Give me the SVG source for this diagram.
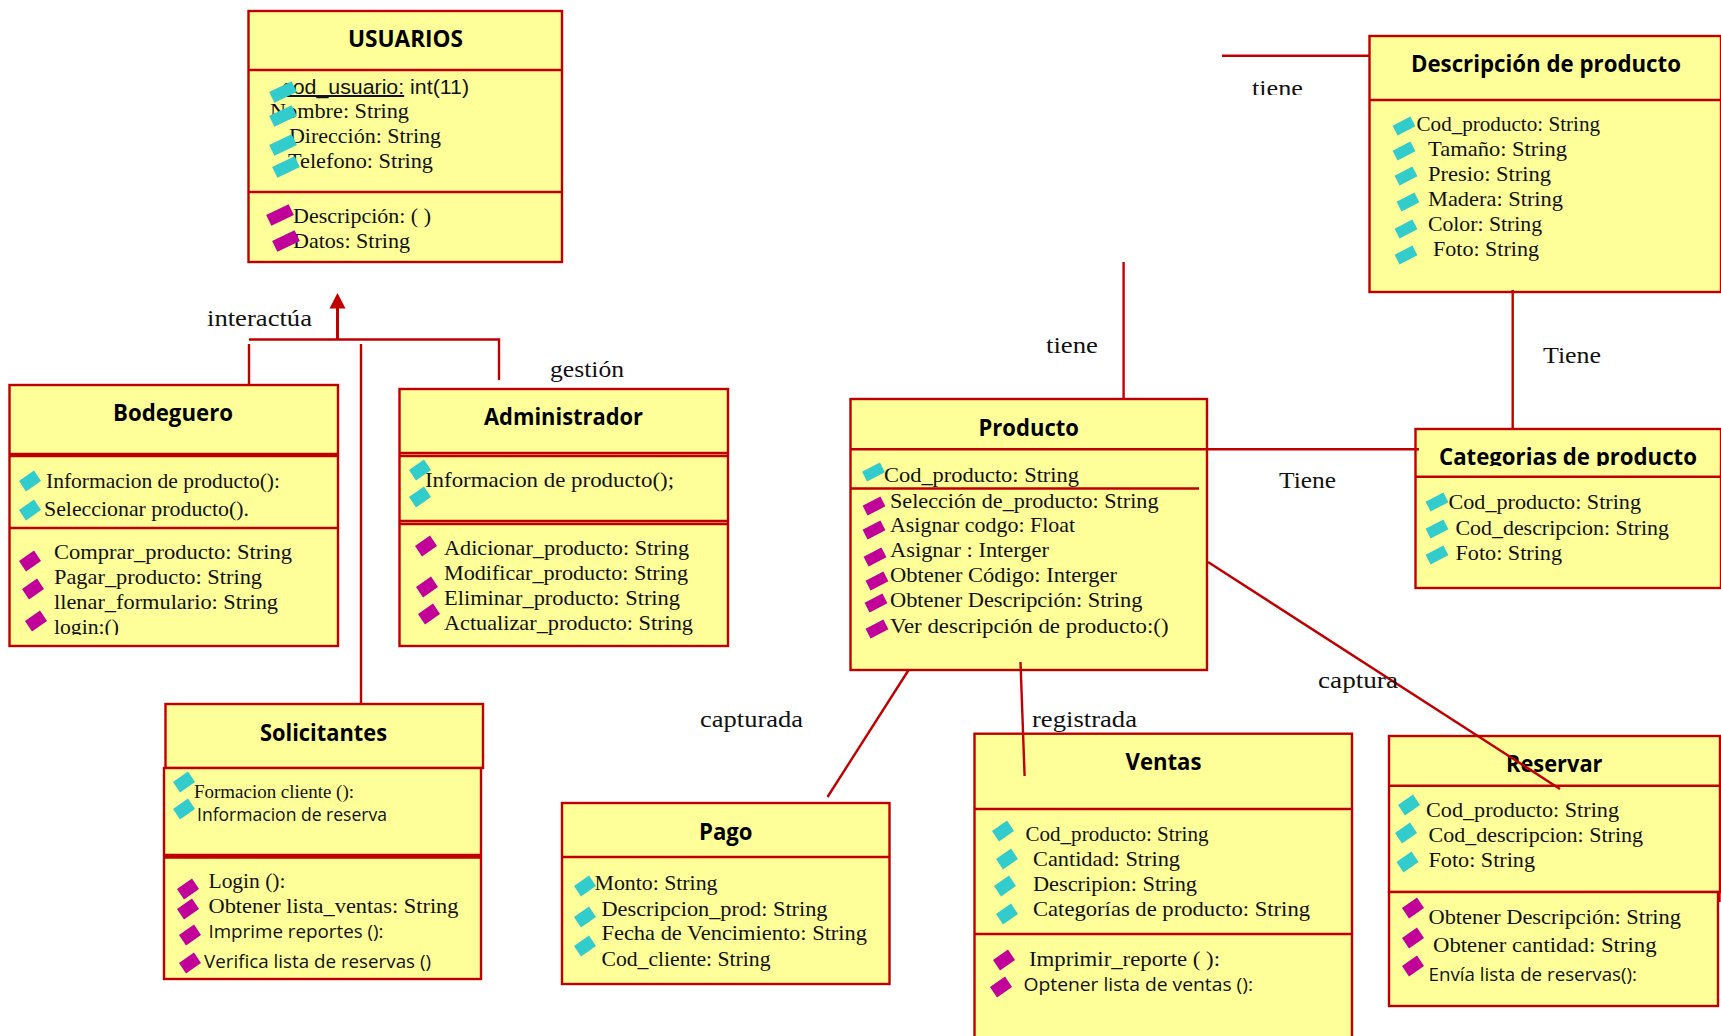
<svg xmlns="http://www.w3.org/2000/svg" width="1721" height="1036" viewBox="0 0 1721 1036">
<style>
text{fill:#111;font-family:"Liberation Serif",serif;font-size:21.5px}
.s{font-family:"Open Sans","Liberation Sans",sans-serif;font-size:18px}
.a{font-family:"Liberation Sans",sans-serif;font-size:20px}
.l{font-size:23.5px}
.h{font-family:"Open Sans","Liberation Sans",sans-serif;font-weight:700;font-size:23px;fill:#000}
.b,.d{fill:#FFFF99;stroke:#C00000;stroke-width:2.4}
.d{fill:none}
.c{stroke:#C00000;stroke-width:2.4;fill:none}
.cy{fill:#33CCCC}.mg{fill:#C00099}
</style>
<defs>
<rect id="n" x="-10" y="-5.5" width="20" height="11" transform="rotate(-27)"/>
<rect id="w" x="-12.5" y="-6" width="25" height="12" transform="rotate(-26)"/>
<polygon id="q" points="-11,0 4,-10.500 11,0 -4,10.500"/>
<clipPath id="clipTiene"><rect x="1240" y="70" width="80" height="25"/></clipPath>
<clipPath id="clipCat"><rect x="1430" y="440" width="280" height="26"/></clipPath>
<clipPath id="clipLogin"><rect x="50" y="610" width="80" height="25"/></clipPath>
</defs>

<g id="usuarios">
<rect class="b" x="248.500" y="11" width="313.500" height="251"/><path class="d" d="M248 70H562M248 192H562"/>
<text class="h" x="348" y="47" textLength="115" lengthAdjust="spacingAndGlyphs">USUARIOS</text>
<text class="a" x="282" y="94" textLength="187" lengthAdjust="spacingAndGlyphs"><tspan text-decoration="underline">cod_usuario:</tspan> int(11)</text>
<text x="270" y="118" textLength="139" lengthAdjust="spacingAndGlyphs">Nombre: String</text>
<text x="289" y="143" textLength="152" lengthAdjust="spacingAndGlyphs">Dirección: String</text>
<text x="288" y="168" textLength="145" lengthAdjust="spacingAndGlyphs">Telefono: String</text>
<text x="293" y="223" textLength="138" lengthAdjust="spacingAndGlyphs">Descripción: ( )</text>
<text x="293" y="248" textLength="117" lengthAdjust="spacingAndGlyphs">Datos: String</text>
<use href="#w" class="cy" x="283" y="92"/><use href="#w" class="cy" x="283" y="116"/><use href="#w" class="cy" x="283" y="145"/><use href="#w" class="cy" x="286" y="167"/>
<use href="#w" class="mg" x="280" y="215"/><use href="#w" class="mg" x="286" y="241"/>
</g>

<g id="bodeguero">
<rect class="b" x="9.500" y="385" width="328.500" height="261"/><path class="d" d="M9 454H338M9 456H338M9 528H338"/>
<text class="h" x="113" y="421" textLength="120" lengthAdjust="spacingAndGlyphs">Bodeguero</text>
<text x="46" y="488" textLength="234" lengthAdjust="spacingAndGlyphs">Informacion de producto():</text>
<text x="44" y="516" textLength="205" lengthAdjust="spacingAndGlyphs">Seleccionar producto().</text>
<text x="54" y="559" textLength="238" lengthAdjust="spacingAndGlyphs">Comprar_producto: String</text>
<text x="54" y="584" textLength="208" lengthAdjust="spacingAndGlyphs">Pagar_producto: String</text>
<text x="54" y="609" textLength="224" lengthAdjust="spacingAndGlyphs">llenar_formulario: String</text>
<text x="54" y="634" textLength="65" lengthAdjust="spacingAndGlyphs" clip-path="url(#clipLogin)">login:()</text>
<use href="#q" class="cy" x="30" y="481"/><use href="#q" class="cy" x="30" y="510"/>
<use href="#q" class="mg" x="30" y="561"/><use href="#q" class="mg" x="33" y="589"/><use href="#q" class="mg" x="36" y="621"/>
</g>

<g id="administrador">
<rect class="b" x="399.500" y="389" width="328.500" height="257"/><path class="d" d="M399 453H728M399 456H728M399 521H728M399 524H728"/>
<text class="h" x="484" y="425" textLength="159" lengthAdjust="spacingAndGlyphs">Administrador</text>
<text x="425" y="487" textLength="249" lengthAdjust="spacingAndGlyphs">Informacion de producto();</text>
<text x="444" y="555" textLength="245" lengthAdjust="spacingAndGlyphs">Adicionar_producto: String</text>
<text x="444" y="580" textLength="244" lengthAdjust="spacingAndGlyphs">Modificar_producto: String</text>
<text x="444" y="605" textLength="236" lengthAdjust="spacingAndGlyphs">Eliminar_producto: String</text>
<text x="444" y="630" textLength="249" lengthAdjust="spacingAndGlyphs">Actualizar_producto: String</text>
<use href="#q" class="cy" x="420" y="470"/><use href="#q" class="cy" x="420" y="497"/>
<use href="#q" class="mg" x="426" y="546"/><use href="#q" class="mg" x="427" y="587"/><use href="#q" class="mg" x="429" y="614"/>
</g>

<g id="solicitantes">
<rect class="b" x="165.500" y="704" width="317.500" height="64"/>
<rect class="b" x="164" y="768" width="317" height="211"/><path class="d" d="M164 855H481M164 857.500H481"/>
<text class="h" x="260" y="741" textLength="127" lengthAdjust="spacingAndGlyphs">Solicitantes</text>
<text x="194" y="798" style="font-size:18px" textLength="160" lengthAdjust="spacingAndGlyphs">Formacion cliente ():</text>
<text class="s" x="197" y="821" textLength="190" lengthAdjust="spacingAndGlyphs">Informacion de  reserva</text>
<text x="208.500" y="888" textLength="77" lengthAdjust="spacingAndGlyphs">Login ():</text>
<text x="208.500" y="913" textLength="250" lengthAdjust="spacingAndGlyphs">Obtener lista_ventas: String</text>
<text class="s" x="208.500" y="938" textLength="175" lengthAdjust="spacingAndGlyphs">Imprime reportes ():</text>
<text class="s" x="204" y="968" textLength="227" lengthAdjust="spacingAndGlyphs">Verifica lista de reservas ()</text>
<use href="#q" class="cy" x="184" y="782"/><use href="#q" class="cy" x="184" y="809"/>
<use href="#q" class="mg" x="188" y="889"/><use href="#q" class="mg" x="188" y="909"/><use href="#q" class="mg" x="190" y="935"/><use href="#q" class="mg" x="190" y="963"/>
</g>

<g id="pago">
<rect class="b" x="562" y="803" width="327.500" height="181"/><path class="d" d="M562 857H889.500"/>
<text class="h" x="699" y="840" textLength="53.500" lengthAdjust="spacingAndGlyphs">Pago</text>
<text x="594.500" y="890" textLength="123" lengthAdjust="spacingAndGlyphs">Monto: String</text>
<text x="601.500" y="916" textLength="226" lengthAdjust="spacingAndGlyphs">Descripcion_prod: String</text>
<text x="601.500" y="940" textLength="265.500" lengthAdjust="spacingAndGlyphs">Fecha de Vencimiento: String</text>
<text x="601.500" y="966" textLength="169" lengthAdjust="spacingAndGlyphs">Cod_cliente: String</text>
<use href="#q" class="cy" x="585" y="886"/><use href="#q" class="cy" x="585" y="917"/><use href="#q" class="cy" x="585" y="946"/>
</g>

<g id="producto">
<rect class="b" x="850.500" y="399" width="356.500" height="271"/><path class="d" d="M850 449.300H1207M850 488.500H1199"/>
<text class="h" x="978.500" y="436" textLength="100.500" lengthAdjust="spacingAndGlyphs">Producto</text>
<text x="884" y="482" textLength="195" lengthAdjust="spacingAndGlyphs">Cod_producto: String</text>
<text x="890" y="508" textLength="268.500" lengthAdjust="spacingAndGlyphs">Selección de_producto: String</text>
<text x="890" y="532" textLength="185" lengthAdjust="spacingAndGlyphs">Asignar codgo: Float</text>
<text x="890" y="557" textLength="159" lengthAdjust="spacingAndGlyphs">Asignar : Interger</text>
<text x="890" y="582" textLength="227" lengthAdjust="spacingAndGlyphs">Obtener Código: Interger</text>
<text x="890" y="607" textLength="252.500" lengthAdjust="spacingAndGlyphs">Obtener Descripción: String</text>
<text x="890" y="633" textLength="278.500" lengthAdjust="spacingAndGlyphs">Ver descripción de producto:()</text>
<use href="#n" class="cy" x="873.500" y="472"/>
<use href="#n" class="mg" x="874" y="506"/><use href="#n" class="mg" x="874" y="530"/><use href="#n" class="mg" x="875" y="557"/><use href="#n" class="mg" x="877" y="581"/><use href="#n" class="mg" x="876" y="603"/><use href="#n" class="mg" x="877" y="629"/>
</g>

<g id="descripcion">
<rect class="b" x="1369.500" y="36" width="351.500" height="256"/><path class="d" d="M1369 100H1721"/>
<text class="h" x="1411" y="72" textLength="270" lengthAdjust="spacingAndGlyphs">Descripción de producto</text>
<text x="1416.500" y="131" textLength="183.500" lengthAdjust="spacingAndGlyphs">Cod_producto: String</text>
<text x="1428" y="156" textLength="139" lengthAdjust="spacingAndGlyphs">Tamaño: String</text>
<text x="1428" y="181" textLength="123" lengthAdjust="spacingAndGlyphs">Presio: String</text>
<text x="1428" y="206" textLength="135" lengthAdjust="spacingAndGlyphs">Madera: String</text>
<text x="1428" y="231" textLength="114" lengthAdjust="spacingAndGlyphs">Color: String</text>
<text x="1433" y="256" textLength="106" lengthAdjust="spacingAndGlyphs">Foto: String</text>
<use href="#n" class="cy" x="1404" y="126"/><use href="#n" class="cy" x="1404" y="151"/><use href="#n" class="cy" x="1406" y="176"/><use href="#n" class="cy" x="1408" y="202"/><use href="#n" class="cy" x="1406" y="229"/><use href="#n" class="cy" x="1406" y="255"/>
</g>

<g id="categorias">
<rect class="b" x="1415.500" y="429" width="305.500" height="159"/><path class="d" d="M1415 476.700H1721"/>
<text class="h" x="1439" y="465" textLength="258" lengthAdjust="spacingAndGlyphs" clip-path="url(#clipCat)">Categorias de producto</text>
<text x="1448.500" y="509" textLength="192.500" lengthAdjust="spacingAndGlyphs">Cod_producto: String</text>
<text x="1455.500" y="535" textLength="213.500" lengthAdjust="spacingAndGlyphs">Cod_descripcion: String</text>
<text x="1455.500" y="560" textLength="106.500" lengthAdjust="spacingAndGlyphs">Foto: String</text>
<use href="#n" class="cy" x="1437" y="502"/><use href="#n" class="cy" x="1437" y="529"/><use href="#n" class="cy" x="1437" y="555"/>
</g>

<g id="ventas">
<rect class="b" x="974.500" y="733.700" width="377.500" height="310"/><path class="d" d="M974.500 809H1352M974.500 934H1352"/>
<text class="h" x="1125.500" y="770" textLength="76" lengthAdjust="spacingAndGlyphs">Ventas</text>
<text x="1025.500" y="841" textLength="183" lengthAdjust="spacingAndGlyphs">Cod_producto: String</text>
<text x="1033" y="866" textLength="147" lengthAdjust="spacingAndGlyphs">Cantidad: String</text>
<text x="1033" y="891" textLength="164" lengthAdjust="spacingAndGlyphs">Descripion: String</text>
<text x="1033" y="916" textLength="277" lengthAdjust="spacingAndGlyphs">Categorías de producto: String</text>
<text x="1029" y="966" textLength="191" lengthAdjust="spacingAndGlyphs">Imprimir_reporte ( ):</text>
<text class="s" x="1023.500" y="991" textLength="229.500" lengthAdjust="spacingAndGlyphs">Optener lista de  ventas ():</text>
<use href="#q" class="cy" x="1003" y="831"/><use href="#q" class="cy" x="1007" y="859"/><use href="#q" class="cy" x="1005" y="886"/><use href="#q" class="cy" x="1007" y="914"/>
<use href="#q" class="mg" x="1004" y="960"/><use href="#q" class="mg" x="1001" y="987"/>
</g>

<g id="reservar">
<rect class="b" x="1389" y="736" width="331" height="156"/>
<rect class="b" x="1389" y="892" width="329" height="114"/><path class="d" d="M1389 785.700H1720M1719.500 892V902"/>
<text class="h" x="1506" y="772" textLength="96.500" lengthAdjust="spacingAndGlyphs">Reservar</text>
<text x="1426" y="817" textLength="193" lengthAdjust="spacingAndGlyphs">Cod_producto: String</text>
<text x="1428.500" y="842" textLength="214.500" lengthAdjust="spacingAndGlyphs">Cod_descripcion: String</text>
<text x="1428.500" y="867" textLength="106.500" lengthAdjust="spacingAndGlyphs">Foto: String</text>
<text x="1428.500" y="924" textLength="252.500" lengthAdjust="spacingAndGlyphs">Obtener Descripción: String</text>
<text x="1433" y="952" textLength="223.500" lengthAdjust="spacingAndGlyphs">Obtener cantidad: String</text>
<text class="s" x="1428.500" y="981" textLength="208.500" lengthAdjust="spacingAndGlyphs">Envía lista de reservas():</text>
<use href="#q" class="cy" x="1409" y="805"/><use href="#q" class="cy" x="1406" y="833"/><use href="#q" class="cy" x="1407.500" y="862"/>
<use href="#q" class="mg" x="1413" y="908"/><use href="#q" class="mg" x="1413" y="938"/><use href="#q" class="mg" x="1413" y="966"/>
</g>

<g id="connectors">
<path class="c" style="stroke-width:3" d="M337.500 339.500V306"/><polygon points="337.500,293 329.500,308.500 345.500,308.500" fill="#C00000"/>
<path class="c" d="M249 339.500H499V380M249 344V385M361 344V704"/>
<path class="c" d="M1222 55.700H1369"/>
<path class="c" d="M1123.600 262V399"/>
<path class="c" d="M1512.700 290V429"/>
<path class="c" d="M1207 449.300H1419"/>
<path class="c" d="M908.600 670L827.500 797"/>
<path class="c" d="M1020.500 662L1024.600 776"/>
<path class="c" d="M1208 562L1560 789"/>
</g>

<g id="labels">
<text class="l" x="207" y="326" textLength="105" lengthAdjust="spacingAndGlyphs">interactúa</text>
<text class="l" x="550" y="377" textLength="74" lengthAdjust="spacingAndGlyphs">gestión</text>
<text class="l" x="1252" y="96" textLength="51" lengthAdjust="spacingAndGlyphs" clip-path="url(#clipTiene)">tiene</text>
<text class="l" x="1046" y="353" textLength="52" lengthAdjust="spacingAndGlyphs">tiene</text>
<text class="l" x="1543" y="363" textLength="58" lengthAdjust="spacingAndGlyphs">Tiene</text>
<text class="l" x="1279" y="488" textLength="57" lengthAdjust="spacingAndGlyphs">Tiene</text>
<text class="l" x="1318" y="688" textLength="80" lengthAdjust="spacingAndGlyphs">captura</text>
<text class="l" x="700" y="727" textLength="103" lengthAdjust="spacingAndGlyphs">capturada</text>
<text class="l" x="1032" y="727" textLength="105" lengthAdjust="spacingAndGlyphs">registrada</text>
</g>
</svg>
